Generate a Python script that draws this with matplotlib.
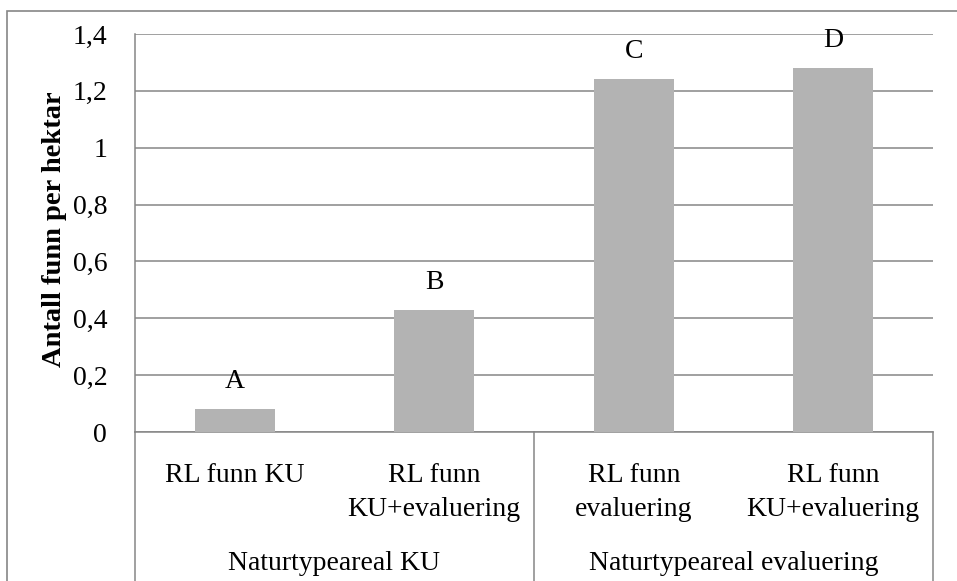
import matplotlib
matplotlib.use("Agg")
import matplotlib.pyplot as plt
from matplotlib.patches import Rectangle
import matplotlib.transforms as mtransforms

# verdier per kategori
kategorier = ["RL funn KU", "RL funn\nKU+evaluering", "RL funn\nevaluering", "RL funn\nKU+evaluering"]
grupper = ["Naturtypeareal KU", "Naturtypeareal evaluering"]
verdier = [0.08, 0.43, 1.24, 1.28]
bokstaver = ["A", "B", "C", "D"]
yticks = [0, 0.2, 0.4, 0.6, 0.8, 1.0, 1.2, 1.4]
ytick_tekst = ["0", "0,2", "0,4", "0,6", "0,8", "1", "1,2", "1,4"]

plt.rcParams["font.family"] = ["Liberation Serif", "DejaVu Serif"]
fs = 20

W, H = 957, 581
fig = plt.figure(figsize=(W / 100, H / 100), dpi=100)
grå = "#868686"

# ramme rundt hele diagrammet
fig.patches.append(Rectangle((7 / W, -0.1), 1.1, (H - 11) / H + 0.1, transform=fig.transFigure,
                             fill=False, edgecolor=grå, linewidth=1.2))

ax = fig.add_axes([135 / W, (H - 432) / H, (933 - 135) / W, (432 - 34) / H])
ax.bar(range(len(verdier)), verdier, width=0.4, color="#b3b3b3", zorder=3)
for i, (v, b) in enumerate(zip(verdier, bokstaver)):
    ax.annotate(b, (i, v), xytext=(0, 21), textcoords="offset pixels",
                ha="center", va="baseline", fontsize=fs)

ax.set_xlim(-0.5, 3.5)
ax.set_ylim(0, 1.4)
ax.set_yticks(yticks)
ax.set_yticklabels(ytick_tekst)
ax.tick_params(axis="y", length=0, pad=20, labelsize=fs)
ax.set_xticks([])
ax.yaxis.grid(True, color=grå, linewidth=1.1)
ax.set_axisbelow(True)
for s in ["top", "right"]:
    ax.spines[s].set_visible(False)
for s in ["left", "bottom"]:
    ax.spines[s].set_color(grå)
    ax.spines[s].set_linewidth(1.1)
ax.set_ylabel("Antall funn per hektar", fontweight="bold", fontsize=20.5)
ax.yaxis.set_label_coords(-0.0853, 0.51)

# kategoriakse med to nivåer
trans = mtransforms.blended_transform_factory(ax.transData, ax.transAxes)
for x in [-0.5, 1.5, 3.5]:
    ax.plot([x, x], [0, -0.6], transform=trans, color=grå, linewidth=1.1, clip_on=False)

px = 1 / (432 - 34)
for i, k in enumerate(kategorier):
    ax.text(i, -(463 - 432) * px, k, transform=trans, ha="center", va="top",
            multialignment="center", fontsize=fs, linespacing=1.45)
for j, g in enumerate(grupper):
    ax.text(2 * j + 0.5, -(564 - 432) * px, g, transform=trans, ha="center", va="center",
            fontsize=fs)

fig.savefig("out.png", dpi=100)
